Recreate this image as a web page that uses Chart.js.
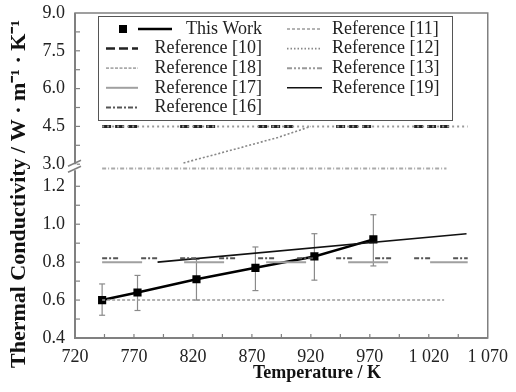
<!DOCTYPE html>
<html>
<head>
<meta charset="utf-8">
<script src="https://cdn.jsdelivr.net/npm/chart.js@4.4.0/dist/chart.umd.min.js"></script>
<style>body{margin:0;background:#fff}</style>
</head>
<body>
<canvas id="chart" width="516" height="392"></canvas>
<script>
// this work: measured points + error bars
const temps = [743, 773, 823, 873, 923, 973];
const thisWork = [0.60, 0.64, 0.71, 0.77, 0.83, 0.92];
const errLow = [0.52, 0.545, 0.60, 0.65, 0.705, 0.78];
const errHigh = [0.685, 0.73, 0.815, 0.88, 0.95, 1.05];

// literature values (temperature, conductivity)
const ref10T = [743, 1053], ref10 = [4.5, 4.5];
const ref11T = [743, 1033], ref11 = [0.60, 0.60];
const ref12T = [812, 852, 892, 920], ref12 = [3.05, 3.55, 4.06, 4.5];
const ref13T = [743, 1053], ref13 = [4.5, 4.5];
const ref16T = [743, 1053], ref16 = [0.82, 0.82];
const ref17T = [743, 1053], ref17 = [0.80, 0.80];
const ref18T = [743, 1035], ref18 = [2.83, 2.83];
const ref19T = [790, 1052], ref19 = [0.80, 0.95];

const xTicks = [720, 770, 820, 870, 920, 970, 1020, 1070];
const xTickLabels = ['720', '770', '820', '870', '920', '970', '1 020', '1 070'];
const lowTicks = [0.4, 0.6, 0.8, 1.0, 1.2];
const highTicks = [3.0, 4.5, 6.0, 7.5, 9.0];

const serif = 'Liberation Serif, Times New Roman, serif';
const pts = (T, V) => T.map((t, i) => ({ x: t, y: V[i] }));

function refLine(label, T, V, axis, color, width, dash, legendDash) {
  return {
    label, data: pts(T, V), yAxisID: axis,
    borderColor: color, borderWidth: width, borderDash: dash,
    pointRadius: 0, tension: 0, fill: false, legendDash
  };
}

const datasets = [
  refLine('Reference [11]', ref11T, ref11, 'yL', '#9a9a9a', 1.5, [3, 2], [3, 2]),
  refLine('Reference [17]', ref17T, ref17, 'yL', '#a0a0a0', 2, [40, 42], []),
  refLine('Reference [16]', ref16T, ref16, 'yL', '#555', 2, [5, 2, 2, 2, 5, 23], [5, 2, 2, 2]),
  refLine('Reference [18]', ref18T, ref18, 'yU', '#aaa', 1.8, [4, 2, 1, 2], [3, 1.5]),
  refLine('Reference [13]', ref13T, ref13, 'yU', '#999', 2, [2, 3], [5, 2, 2, 2, 2, 2]),
  refLine('Reference [10]', ref10T, ref10, 'yU', '#222', 3, [9, 4, 9, 4, 9, 43], [9, 4]),
  refLine('Reference [12]', ref12T, ref12, 'yU', '#888', 1.6, [2, 2], [1.5, 2]),
  refLine('Reference [19]', ref19T, ref19, 'yL', '#111', 1.6, [], []),
  {
    label: 'This Work', data: pts(temps, thisWork), yAxisID: 'yL',
    borderColor: '#000', borderWidth: 2.5, backgroundColor: '#000',
    pointStyle: 'rect', pointRadius: 4, tension: 0, fill: false, legendDash: []
  }
];

const legendCols = [
  ['This Work', 'Reference [10]', 'Reference [18]', 'Reference [17]', 'Reference [16]'],
  ['Reference [11]', 'Reference [12]', 'Reference [13]', 'Reference [19]']
];

function line(ctx, x1, y1, x2, y2) {
  ctx.beginPath(); ctx.moveTo(x1, y1); ctx.lineTo(x2, y2); ctx.stroke();
}

const decor = {
  id: 'decor',
  beforeDatasetsDraw(chart) {
    const { ctx, scales: { x, yL } } = chart;
    ctx.save();
    ctx.strokeStyle = '#8a8a8a';
    ctx.lineWidth = 1.2;
    temps.forEach((t, i) => {
      const px = x.getPixelForValue(t);
      const top = yL.getPixelForValue(errHigh[i]);
      const bot = yL.getPixelForValue(errLow[i]);
      line(ctx, px, top, px, bot);
      line(ctx, px - 3, top, px + 3, top);
      line(ctx, px - 3, bot, px + 3, bot);
    });
    ctx.restore();
  },
  afterDraw(chart) {
    const { ctx, chartArea: a, scales: { x, yL, yU } } = chart;
    ctx.save();
    // frame
    ctx.strokeStyle = '#808080';
    ctx.lineWidth = 1.5;
    ctx.strokeRect(a.left, a.top, a.right - a.left, a.bottom - a.top);
    ctx.lineWidth = 2;
    line(ctx, a.left, a.top, a.left, a.bottom + 1);
    line(ctx, a.left - 1, a.bottom, a.right, a.bottom);
    // inward ticks
    ctx.lineWidth = 1.2;
    for (let t = 745; t < 1070; t += 25) {
      const px = x.getPixelForValue(t);
      line(ctx, px, a.bottom, px, a.bottom - 4);
    }
    for (let v = 0.5; v < 1.25; v += 0.1) {
      const py = yL.getPixelForValue(v);
      line(ctx, a.left, py, a.left + 5, py);
    }
    for (let v = 3.0; v < 9.0; v += 0.75) {
      const py = yU.getPixelForValue(v);
      line(ctx, a.left, py, a.left + 5, py);
    }
    // axis break
    const by = yU.getPixelForValue(2.88);
    ctx.fillStyle = '#fff';
    ctx.fillRect(a.left - 2, by - 3, 4, 6);
    ctx.lineWidth = 1.5;
    line(ctx, a.left - 7, by - 1, a.left + 6, by - 7);
    line(ctx, a.left - 7, by + 5, a.left + 6, by - 1);

    // legend
    const lx = 98, ly = 16, lw = 354, lh = 104;
    ctx.fillStyle = '#fff';
    ctx.fillRect(lx, ly, lw, lh);
    ctx.strokeStyle = '#555';
    ctx.lineWidth = 1;
    ctx.strokeRect(lx + 0.5, ly + 0.5, lw, lh);
    ctx.font = '18px ' + serif;
    ctx.textBaseline = 'middle';
    ctx.fillStyle = '#222';
    legendCols.forEach((col, c) => {
      col.forEach((name, r) => {
        const ds = chart.data.datasets.find(d => d.label === name);
        const y = ly + 13 + r * 19.6;
        ctx.strokeStyle = ds.borderColor;
        ctx.lineWidth = Math.min(ds.borderWidth, 2.5);
        ctx.setLineDash(ds.legendDash);
        if (c === 0) {
          if (name === 'This Work') {
            line(ctx, 138, y, 172, y);
            ctx.fillStyle = '#000';
            ctx.fillRect(119, y - 4, 8, 8);
          } else {
            line(ctx, 106, y, 138, y);
          }
          ctx.setLineDash([]);
          ctx.fillStyle = '#222';
          ctx.textAlign = 'right';
          ctx.fillText(name, 262, y);
        } else {
          line(ctx, 287, y, 322, y);
          ctx.setLineDash([]);
          ctx.fillStyle = '#222';
          ctx.textAlign = 'left';
          ctx.fillText(name, 332, y);
        }
      });
    });

    // axis titles
    ctx.font = 'bold 18px ' + serif;
    ctx.textAlign = 'center';
    ctx.fillStyle = '#111';
    ctx.fillText('Temperature / K', 317, 373);
    ctx.translate(19, 194);
    ctx.rotate(-Math.PI / 2);
    ctx.font = 'bold 22px ' + serif;
    ctx.fillText('Thermal Conductivity / W · m⁻¹ · K⁻¹', 0, 0);
    ctx.restore();
  }
};

const tickFont = { family: serif, size: 18 };

new Chart(document.getElementById('chart'), {
  type: 'line',
  data: { datasets },
  options: {
    responsive: false,
    animation: false,
    devicePixelRatio: 1,
    layout: { padding: { left: 0, top: 13, right: 23, bottom: 0 } },
    plugins: { legend: { display: false }, tooltip: { enabled: false } },
    scales: {
      x: {
        type: 'linear', position: 'bottom', min: 720, max: 1070,
        grid: { display: false, drawTicks: false }, border: { display: false },
        ticks: {
          font: tickFont, color: '#222', padding: 8, autoSkip: false, maxRotation: 0,
          callback: v => xTickLabels[xTicks.indexOf(v)]
        },
        afterBuildTicks: s => { s.ticks = xTicks.map(v => ({ value: v })); },
        afterFit: s => { s.height = 54; }
      },
      yL: {
        type: 'linear', position: 'left', stack: 'y', stackWeight: 161.2,
        min: 0.4, max: 1.25,
        grid: { display: false, drawTicks: false }, border: { display: false },
        ticks: { font: tickFont, color: '#222', padding: 10, autoSkip: false, callback: v => v.toFixed(1) },
        afterBuildTicks: s => { s.ticks = lowTicks.map(v => ({ value: v })); },
        afterFit: s => { s.width = 75; s.paddingTop = 0; s.paddingBottom = 0; }
      },
      yU: {
        type: 'linear', position: 'left', stack: 'y', stackWeight: 163.8,
        min: 2.5, max: 9.0,
        grid: { display: false, drawTicks: false }, border: { display: false },
        ticks: { font: tickFont, color: '#222', padding: 10, autoSkip: false, callback: v => v.toFixed(1) },
        afterBuildTicks: s => { s.ticks = highTicks.map(v => ({ value: v })); },
        afterFit: s => { s.width = 75; s.paddingTop = 0; s.paddingBottom = 0; }
      }
    }
  },
  plugins: [decor]
});
</script>
</body>
</html>
